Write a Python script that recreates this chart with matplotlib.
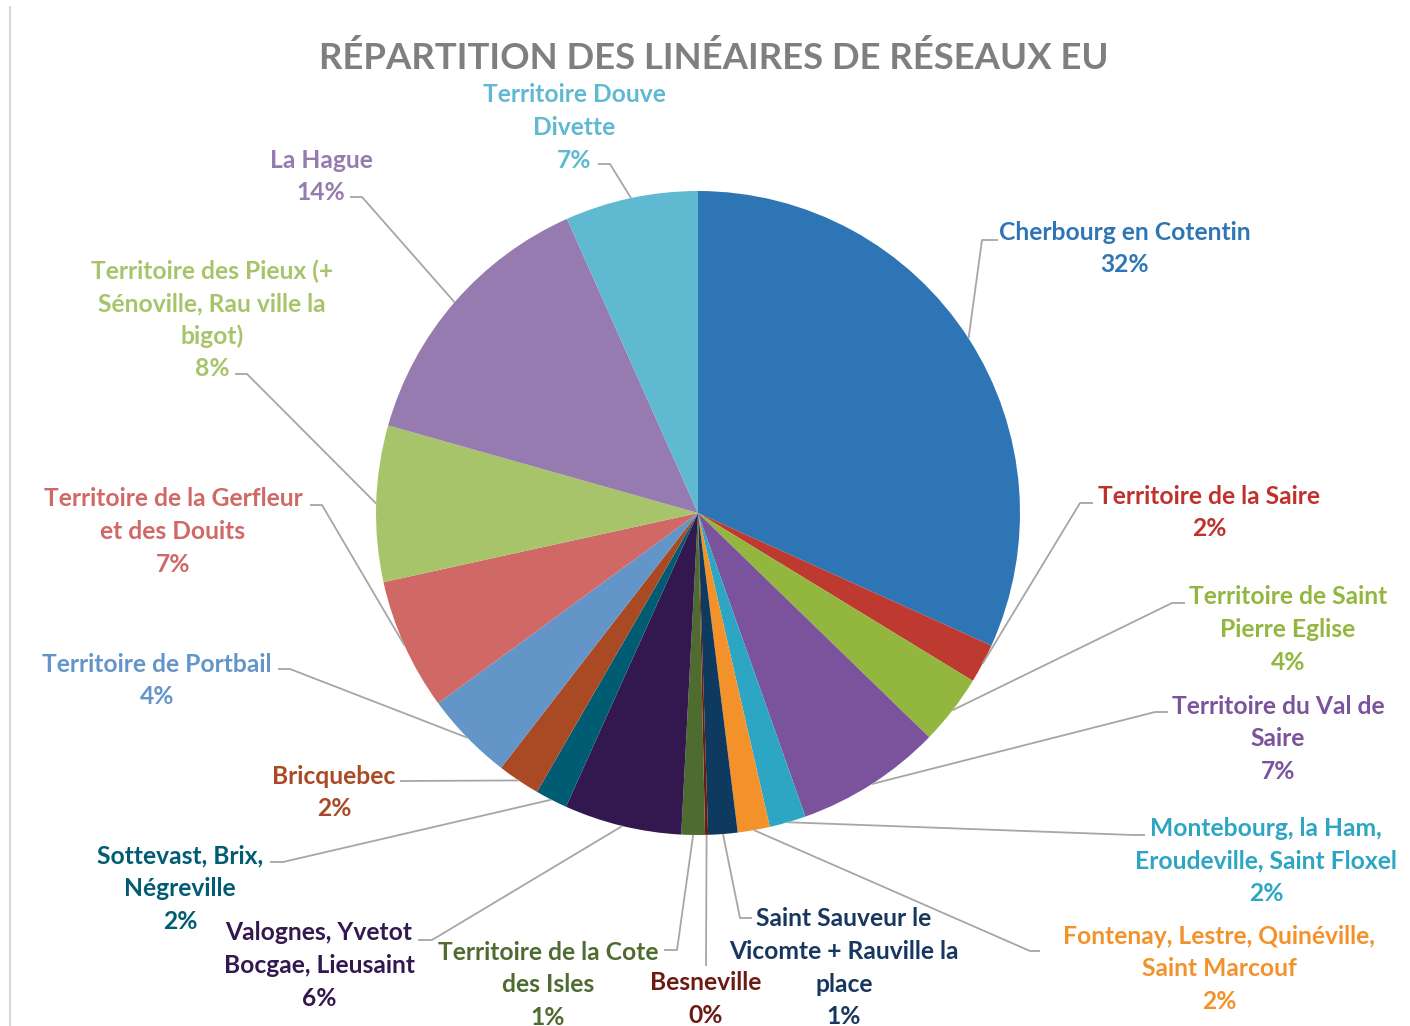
"""
Répartition des linéaires de réseaux EU — camembert avec étiquettes externes.
Sortie : out.png
"""
import matplotlib
matplotlib.use("Agg")
import matplotlib.pyplot as plt
import numpy as np
from matplotlib.lines import Line2D

# ── données ───────────────────────────────────────────────────────────────────
territoires = [
    "Cherbourg en Cotentin",
    "Territoire de la Saire",
    "Territoire de Saint\nPierre Eglise",
    "Territoire du Val de\nSaire",
    "Montebourg, la Ham,\nEroudeville, Saint Floxel",
    "Fontenay, Lestre, Quinéville,\nSaint Marcouf",
    "Saint Sauveur le\nVicomte + Rauville la\nplace",
    "Besneville",
    "Territoire de la Cote\ndes Isles",
    "Valognes, Yvetot\nBocgae, Lieusaint",
    "Sottevast, Brix,\nNégreville",
    "Bricquebec",
    "Territoire de Portbail",
    "Territoire de la Gerfleur\net des Douits",
    "Territoire des Pieux (+\nSénoville, Rau ville la\nbigot)",
    "La Hague",
    "Territoire Douve\nDivette",
]
parts = [31.75, 1.97, 3.53, 7.33, 1.83, 1.61, 1.47, 0.15, 1.18,
         5.89, 1.61, 2.14, 4.47, 6.61, 7.83, 13.94, 6.67]

couleurs = ["#2E75B6", "#BE3A31", "#93B63F", "#7B539C", "#2DA6C3", "#F3922B",
            "#0F3A5F", "#6B1B12", "#4E6B30", "#33184F", "#005C72", "#A94A24",
            "#6495C8", "#D06866", "#A8C46A", "#957BB0", "#5FB9D0"]
couleurs_txt = ["#2E75B6", "#C0312D", "#93B63F", "#7B539C", "#2DA6C3", "#F3922B",
                "#17375E", "#6B1B12", "#4E6B30", "#33184F", "#005C72", "#A94A24",
                "#6495C8", "#D06866", "#A8C46A", "#957BB0", "#5FB9D0"]

TITRE = "RÉPARTITION DES LINÉAIRES DE RÉSEAUX EU"

# ── mise en page (pixels de l'image) ──────────────────────────────────────────
W, H = 1410, 1026
CX, CY, R = 698, 513, 322
INTERLIGNE = 32.6

# (x centre du texte, y de la 1re ligne, coude, fin du trait)
etiquettes = [
    (1125, 232, (982, 240), (998, 240)),
    (1209, 496, (1080, 503), (1093, 503)),
    (1288, 597, (1172, 603), (1185, 603)),
    (1278, 706, (1155, 712), (1168, 712)),
    (1266, 828, (1133, 835), (1145, 835)),
    (1219, 936, (1030, 951), (1040, 951)),
    (844, 919, (740, 918), (752, 918)),
    (706, 983, (706, 966), (706, 966)),
    (548, 952, (677, 950), (664, 950)),
    (319, 933, (432, 940), (418, 940)),
    (180, 856, (283, 862), (270, 862)),
    (334, 776, (405, 781), (400, 781)),
    (157, 664, (290, 669), (278, 669)),
    (173, 499, (322, 505), (310, 505)),
    (212, 271, (247, 374), (235, 374)),
    (321, 160, (362, 197), (350, 197)),
    (574, 95, (610, 164), (598, 164)),
]

plt.rcParams["font.family"] = ["Lato", "DejaVu Sans"]
plt.rcParams["font.weight"] = "bold"


def px(x, y):
    """pixels image -> coordonnées données (centre du camembert, rayon 1)."""
    return (x - CX) / R, (CY - y) / R


fig = plt.figure(figsize=(W / 100, H / 100), dpi=100)
ax = fig.add_axes([0, 0, 1, 1])
ax.axis("off")

wedges, _ = ax.pie(parts, colors=couleurs, startangle=90, counterclock=False,
                   radius=1, center=(0, 0), wedgeprops=dict(linewidth=0))
ax.set_xlim(-CX / R, (W - CX) / R)
ax.set_ylim((CY - H) / R, CY / R)
ax.set_aspect("equal")

total = sum(parts)
for w, nom, val, ctxt, (tx, ty, coude, fin) in zip(wedges, territoires, parts,
                                                    couleurs_txt, etiquettes):
    ang = np.deg2rad((w.theta1 + w.theta2) / 2)
    x0, y0 = np.cos(ang), np.sin(ang)
    xc, yc = px(*coude)
    xf, yf = px(*fin)
    ax.plot([x0, xc, xf], [y0, yc, yf], color="#A6A6A6", lw=1.3,
            solid_capstyle="butt", zorder=1)
    lignes = nom.split("\n") + [f"{round(val / total * 100):.0f}%"]
    for i, l in enumerate(lignes):
        ax.text(*px(tx, ty + i * INTERLIGNE), l, ha="center", va="center",
                fontsize=17.7, color=ctxt, fontweight="bold")

ax.text(*px(714, 58), TITRE, ha="center", va="center", fontsize=26.3,
        color="#7F7F7F", fontweight="bold")

# bord gauche du cadre du graphique
fig.add_artist(Line2D([10 / W, 10 / W], [0, 1 - 7 / H], color="#D9D9D9", lw=1.5))

fig.savefig("out.png", dpi=100)
